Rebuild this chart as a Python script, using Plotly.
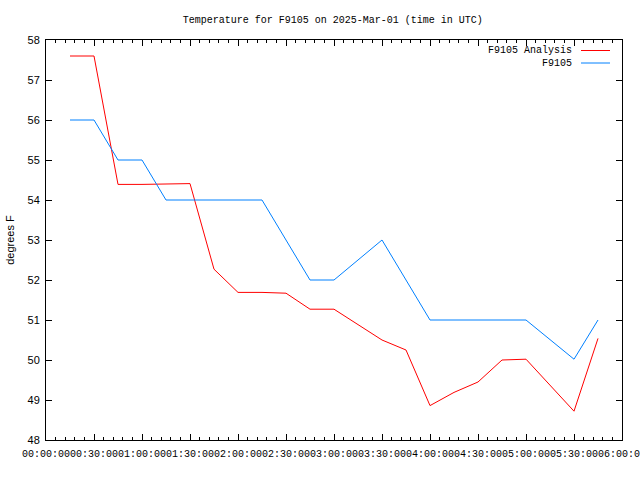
import plotly.graph_objects as go

day = "2025-03-01"
analysis_min = [15, 30, 45, 60, 90, 105, 120, 135, 150, 165, 180, 210, 225, 240, 255, 270, 285, 300, 330, 345]
analysis_val = [57.6, 57.6, 54.39, 54.39, 54.41, 52.27, 51.69, 51.69, 51.67, 51.27, 51.27, 50.5, 50.25,
                48.86, 49.19, 49.45, 50.0, 50.02, 48.72, 50.54]
obs_min = [15, 30, 45, 60, 75, 135, 165, 180, 210, 240, 300, 330, 345]
obs_val = [56.0, 56.0, 55.0, 55.0, 54.0, 54.0, 52.0, 52.0, 53.0, 51.0, 51.0, 50.02, 51.0]
series_names = ["F9105 Analysis", "F9105"]
series_colors = ["#ff0000", "#0080ff"]


def to_ts(m):
    return f"{day} {m // 60:02d}:{m % 60:02d}:00"


fig = go.Figure()
fig.add_trace(go.Scatter(x=[to_ts(m) for m in analysis_min], y=analysis_val, mode="lines",
                         line=dict(color=series_colors[0], width=1), name=series_names[0]))
fig.add_trace(go.Scatter(x=[to_ts(m) for m in obs_min], y=obs_val, mode="lines",
                         line=dict(color=series_colors[1], width=1), name=series_names[1]))

# legend drawn gnuplot-style: right aligned text with sample to its right
for i, (nm, col) in enumerate(zip(series_names, series_colors)):
    yp = 1 - (10.5 + 12.5 * i) / 400
    fig.add_annotation(x=(574 - 46) / 576, y=yp, xref="paper", yref="paper", text=nm,
                       showarrow=False, xanchor="right", yanchor="middle",
                       font=dict(family="Liberation Mono", size=10, color="black"))
    fig.add_shape(type="line", xref="paper", yref="paper", x0=(581 - 46) / 576, x1=(610 - 46) / 576,
                  y0=yp, y1=yp, line=dict(color=col, width=1))

fig.update_layout(
    width=640, height=480,
    margin=dict(l=46, r=18, t=40, b=40),
    paper_bgcolor="white", plot_bgcolor="white",
    showlegend=False,
    title=dict(text="Temperature for F9105 on 2025-Mar-01 (time in UTC)", x=0.52, xanchor="center",
               y=1 - 19 / 480, yanchor="middle",
               font=dict(family="Liberation Mono", size=10, color="black")),
    xaxis=dict(type="date", range=[f"{day} 00:00:00", f"{day} 06:00:00"],
               dtick=1800000, tick0=f"{day} 00:00:00", tickformat="%H:%M:%S", tickangle=0,
               automargin=False, ticklabeloverflow="allow", ticklabelstandoff=4,
               ticks="inside", ticklen=6, tickcolor="black", showgrid=False, zeroline=False,
               showline=True, linecolor="black", linewidth=1, mirror="ticks",
               tickfont=dict(family="Liberation Mono", size=10, color="black"),
               minor=dict(dtick=360000, ticks="inside", ticklen=3, tickcolor="black", showgrid=False)),
    yaxis=dict(range=[48, 58], dtick=1, ticks="inside", ticklen=6, tickcolor="black",
               automargin=False, ticklabelstandoff=3,
               showgrid=False, zeroline=False, showline=True, linecolor="black", linewidth=1,
               mirror="ticks", tickfont=dict(family="Liberation Sans", size=11, color="black"),
               title=dict(text="degrees F", standoff=10,
                          font=dict(family="Liberation Sans", size=11, color="black"))),
)

fig.write_html("out.html")
